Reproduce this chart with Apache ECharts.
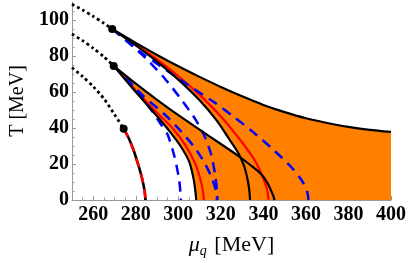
<!DOCTYPE html>
<html><head><meta charset="utf-8">
<script src="https://cdn.jsdelivr.net/npm/echarts@6/dist/echarts.min.js"></script>
<style>html,body{margin:0;padding:0;background:#fff}#c{width:409px;height:263px}</style>
</head><body><div id="c"></div>
<script>
// ---- data (mu_q [MeV], T [MeV]) ----
const muTicks = [260, 280, 300, 320, 340, 360, 380, 400];
const tTicks = [0, 20, 40, 60, 80, 100];
const muMinor = [255,260,265,270,275,280,285,290,295,300,305,310,315,320,325,330,335,340,345,350,355,360,365,370,375,380,385,390,395];
const tMinor = [5,10,15,20,25,30,35,40,45,50,55,60,65,70,75,80,85,90,95,100,105];

const criticalPoints = [[268.9, 95], [269.6, 74.5], [274.3, 39.6]];

const dotted1 = [[250,108.8],[255,105.6],[260,102],[265,98.2],[268.9,95]];
const dotted2 = [[250,92.2],[255,88.5],[260,84.3],[265,79.6],[269.6,74.5]];
const dotted3 = [[250,73.6],[255,68.6],[260,63],[265,56.3],[270,47.5],[274.3,39.6]];

const familyC = [[274.3,39.6],[276.8,34],[279,27.5],[280.7,21.3],[282.4,14.5],[283.6,8.5],[284.3,3.5],[284.5,0]];

const aUpper = [[268.9,95],[280,87.3],[290,80.6],[300,74.3],[310,68.4],[320,62.8],[330,57.6],[340,52.8],[350,48.8],[360,45.4],[370,42.8],[380,40.6],[390,39],[400,37.8]];
const aLower = [[268.9,95],[280,85.9],[290,76.9],[300,66.9],[310,55.4],[318,44.2],[324,33.7],[328,26.5],[331,18.7],[332.2,13.3],[333,8.5],[333.5,4],[333.7,0]];
const aRed = [[268.9,95],[280,86.3],[290,78.1],[300,68.9],[310,58.4],[320,46.4],[328,35],[335,23.8],[339,14.8],[341.5,6.8],[342.2,2.5],[342.4,0]];
const aBlue1 = [[268.9,95],[283,81.5],[300,67.5],[316.6,54.5],[325.8,46.5],[334.9,38],[344.9,27.7],[354.1,17],[358.5,10],[360.6,4.5],[361.2,0]];
const aBlue2 = [[268.9,95],[276,88],[284.5,79],[293.6,67.5],[301.3,56],[308.2,44.5],[312.5,35],[315.5,25],[317.3,14],[318.2,5],[318.4,0]];

const bUpper = [[269.6,74.5],[280,64.6],[290,55.6],[300,47.1],[310,39.1],[320,31.1],[328,24.7],[334,19.3],[339,14.3],[342,9.3],[344,4.2],[344.9,1.5],[345.2,0]];
const bLower = [[269.6,74.5],[280,60],[290,46.5],[296,38],[301,30],[305.1,21.3],[307.3,11],[308.2,3],[308.4,0]];
const bRed = [[269.6,74.5],[280,61],[290,48.5],[297.5,39.6],[303,31],[308.2,19.5],[310.7,10],[311.8,3],[312,0]];
const bBlue1 = [[269.6,74.5],[275,68],[281.4,59],[287,50.5],[292.1,41.5],[295.1,36],[298.2,24],[300.3,12],[301,4],[301.2,0]];
const bBlue2 = [[269.6,74.5],[276,67],[282.9,58.5],[293.6,47.5],[300.6,39],[307.4,29.6],[312,21.3],[315.5,13],[317.5,6],[318.2,0]];

// ---- regions (built from curves) ----
const regionA = aUpper.concat([[400,0]], aLower.slice().reverse());
const regionB = bUpper.concat(bLower.slice().reverse());

const ORANGE = '#ff8000';
function fill(poly) {
  return {
    type: 'custom', silent: true, z: 1,
    renderItem: function (params, api) {
      if (params.dataIndex !== 0) return;
      const pts = poly.map(p => api.coord(p));
      return { type: 'polygon', shape: { points: pts, smooth: 0 }, style: { fill: ORANGE, stroke: null } };
    },
    data: poly, encode: { x: 0, y: 1 }
  };
}
function line(data, color, width, type, z) {
  return {
    type: 'line', data: data, showSymbol: false, silent: true, z: z || 3,
    smooth: 0.25,
    lineStyle: { color: color, width: width, type: type || 'solid', cap: 'butt' }
  };
}
const BLUE = '#0000ff', RED = '#ff0000', BLACK = '#000000';
const lblFont = { fontFamily: 'Liberation Serif', fontWeight: 'bold', fontSize: 20, color: '#000' };

const chart = echarts.init(document.getElementById('c'), null, { renderer: 'canvas' });
chart.setOption({
  animation: false,
  grid: { left: 65.5, right: 16.7, top: 2, bottom: 61, containLabel: false },
  xAxis: [{
    type: 'value', min: 250, max: 400,
    name: '{mu|μ}{sub|q} [MeV]', nameLocation: 'middle', nameGap: 33,
    nameTextStyle: { fontFamily: 'Liberation Serif', fontSize: 22, color: '#000',
      rich: { mu: { fontFamily: 'Liberation Serif', fontStyle: 'italic', fontSize: 22, color: '#000' },
              sub: { fontFamily: 'Liberation Serif', fontStyle: 'italic', fontSize: 14, color: '#000', padding: [11, 2, 0, 0] } } },
    axisLine: { show: true, lineStyle: { color: '#999', width: 1 } },
    axisTick: { show: true, inside: true, length: 4, customValues: muTicks, lineStyle: { color: '#999' } },
    axisLabel: Object.assign({ customValues: muTicks, margin: 5 }, lblFont),
    splitLine: { show: false }
  }, {
    type: 'value', min: 250, max: 400, position: 'bottom',
    axisLine: { show: false },
    axisTick: { show: true, inside: true, length: 2.5, customValues: muMinor, lineStyle: { color: '#999' } },
    axisLabel: { show: false }, splitLine: { show: false }
  }],
  yAxis: [{
    type: 'value', min: 0, max: 110,
    name: 'T [MeV]', nameLocation: 'middle', nameGap: 44, nameRotate: 90,
    nameTextStyle: { fontFamily: 'Liberation Serif', fontSize: 20, color: '#000' },
    axisLine: { show: true, lineStyle: { color: '#999', width: 1 } },
    axisTick: { show: true, inside: true, length: 4, customValues: tTicks, lineStyle: { color: '#999' } },
    axisLabel: Object.assign({ customValues: tTicks, margin: 3 }, lblFont),
    splitLine: { show: false }
  }, {
    type: 'value', min: 0, max: 110, position: 'left',
    axisLine: { show: false },
    axisTick: { show: true, inside: true, length: 2.5, customValues: tMinor, lineStyle: { color: '#999' } },
    axisLabel: { show: false }, splitLine: { show: false }
  }],
  series: [
    fill(regionA), fill(regionB),
    line(aRed, RED, 2.2, 'solid', 3), line(bRed, RED, 2.2, 'solid', 3),
    line(aBlue1, BLUE, 2.5, [10, 7], 4), line(aBlue2, BLUE, 2.5, [10, 7], 4),
    line(bBlue1, BLUE, 2.5, [10, 7], 4), line(bBlue2, BLUE, 2.5, [10, 7], 4),
    line(aUpper, BLACK, 2.2, 'solid', 5), line(aLower, BLACK, 2.2, 'solid', 5),
    line(bUpper, BLACK, 2.2, 'solid', 5), line(bLower, BLACK, 2.2, 'solid', 5),
    line(familyC, BLACK, 2.6, 'solid', 5), line(familyC, RED, 2.6, [9, 7], 6),
    line(dotted1, BLACK, 2.8, [2.8, 3], 5), line(dotted2, BLACK, 2.8, [2.8, 3], 5), line(dotted3, BLACK, 2.8, [2.8, 3], 5),
    { type: 'scatter', data: criticalPoints, symbol: 'circle', symbolSize: 8, silent: true, z: 7,
      itemStyle: { color: BLACK, opacity: 1 } }
  ]
});
</script>
</body></html>
